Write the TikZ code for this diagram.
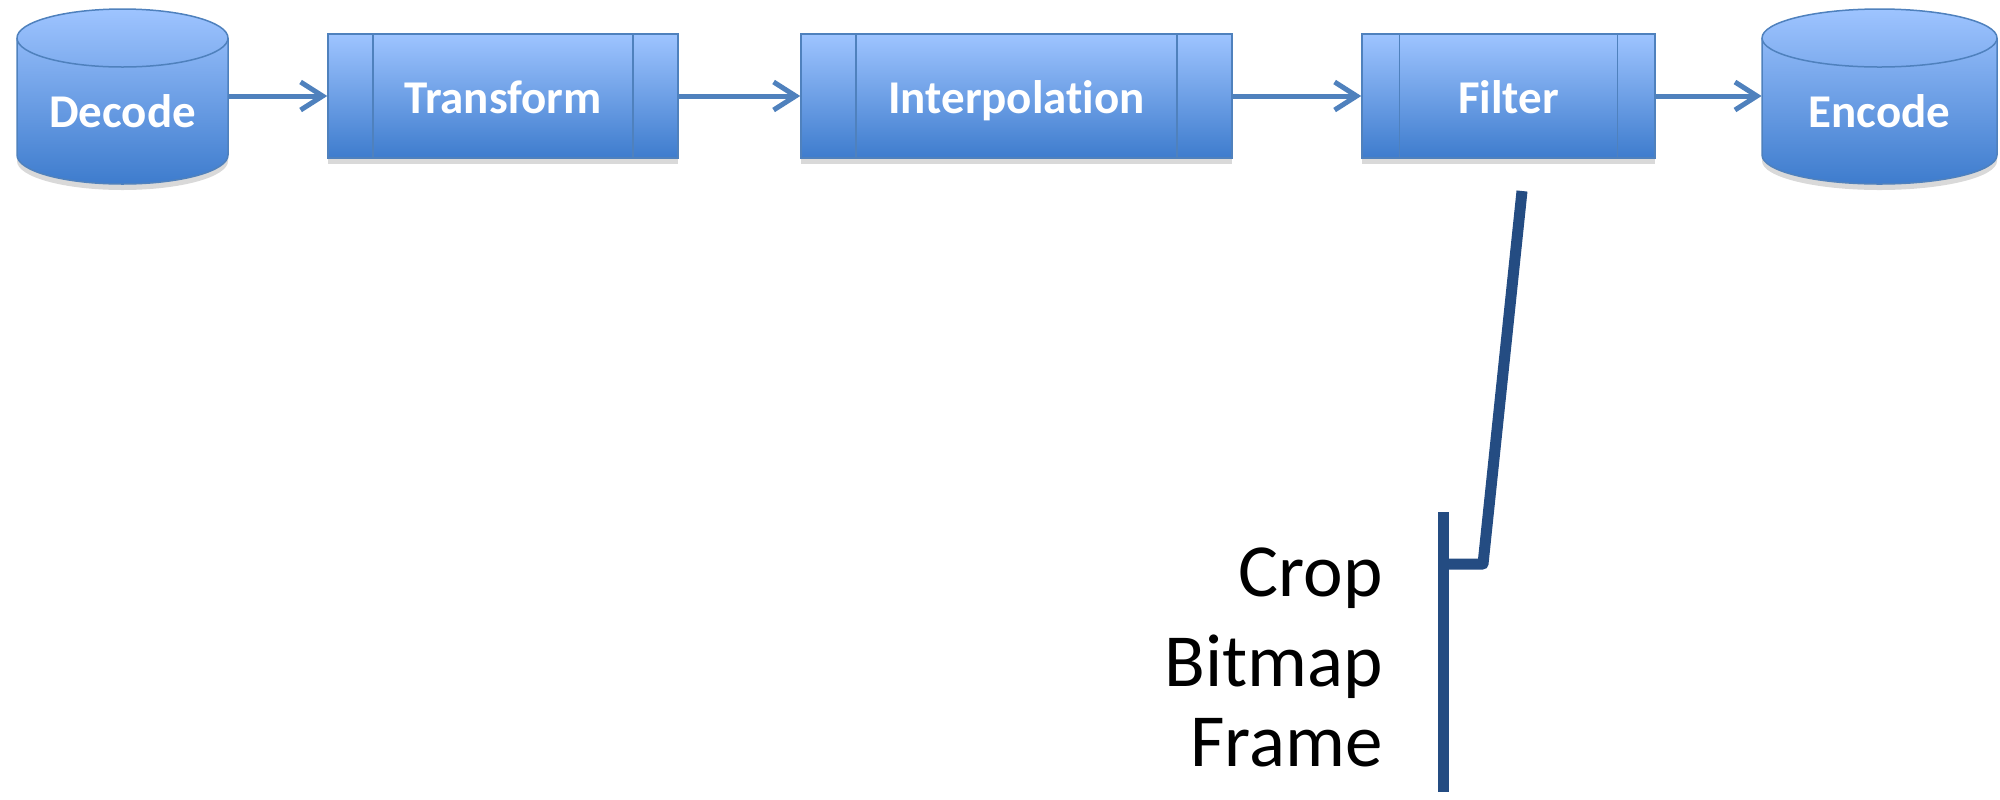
\documentclass[tikz,border=0pt]{standalone}
\usepackage{fontspec}
\setmainfont{Carlito}[Ligatures=NoCommon]
\usetikzlibrary{arrows.meta,shadows,calc}
\definecolor{boxtop}{RGB}{158,196,255}
\definecolor{boxbot}{RGB}{62,124,205}
\definecolor{boxline}{RGB}{79,129,189}
\definecolor{calloutblue}{RGB}{36,76,130}
\tikzset{
  box/.style={draw=boxline, line width=0.75pt, top color=boxtop, bottom color=boxbot,
    drop shadow={opacity=0.3, shadow xshift=0pt, shadow yshift=-3pt}},
  boxtext/.style={text=white, font=\fontsize{23.5}{28}\selectfont\bfseries,
    text height=22.5pt, text depth=5pt},
  proc/.style={box, boxtext, rectangle, minimum height=62pt, path picture={
    \draw[boxline, line width=0.75pt]
      ($(path picture bounding box.north west)!0.128!(path picture bounding box.north east)$) --
      ($(path picture bounding box.south west)!0.128!(path picture bounding box.south east)$)
      ($(path picture bounding box.north east)!0.128!(path picture bounding box.north west)$) --
      ($(path picture bounding box.south east)!0.128!(path picture bounding box.south west)$);}},
  flow/.style={draw=boxline, line width=2.5pt, -{Straight Barb[length=11pt,width=14pt]}},
  item/.style={font=\fontsize{37.5}{45}\selectfont, anchor=base east, inner sep=0pt},
  callout/.style={draw=calloutblue, line width=5.5pt, line join=round}
}
\begin{document}
\begin{tikzpicture}[x=0.5pt,y=-0.5pt]
\useasboundingbox (0,0) rectangle (2000,799);

% storage drums
\foreach \cx/\rx in {122.5/105.5, 1879.5/117.5}{
  \path[box] (\cx-\rx,38) -- (\cx-\rx,155)
    arc[start angle=180, end angle=0, x radius=\rx, y radius=29]
    -- (\cx+\rx,38)
    arc[start angle=0, end angle=-180, x radius=\rx, y radius=29] -- cycle;
  \draw[boxline, line width=0.75pt] (\cx-\rx,38)
    arc[start angle=180, end angle=0, x radius=\rx, y radius=29];
}
\node[boxtext, minimum width=105.5pt] (dec) at (122.5,110) {Decode};
\node[boxtext, minimum width=117.5pt] (enc) at (1879.5,110) {Encode};

% pipeline
\node[proc, minimum width=175pt] (tr) at (503,96) {Transform};
\node[proc, minimum width=215.5pt] (ip) at (1016.5,96) {Interpolation};
\node[proc, minimum width=146.5pt] (fi) at (1508.5,96) {Filter};

\draw[flow] (dec.east |- tr.west) -- (tr.west);
\draw[flow] (tr) -- (ip);
\draw[flow] (ip) -- (fi);
\draw[flow] (fi.east) -- (enc.west |- fi.east);

% filter steps
\node[item] (crop) at (1383,596) {Crop};
\node[item] (bmp) at (1383,686) {Bitmap};
\node[item] (frm) at (1383,766) {Frame};

\coordinate (tip) at (1522,191);
\coordinate (knee) at (1483,564);
\coordinate (join) at (1443,564);
\coordinate (bartop) at (1443,512);
\coordinate (barbot) at (1443,792);
\draw[callout] (bartop) -- (barbot);
\draw[callout] (tip) -- (knee) -- (join);

\end{tikzpicture}
\end{document}
